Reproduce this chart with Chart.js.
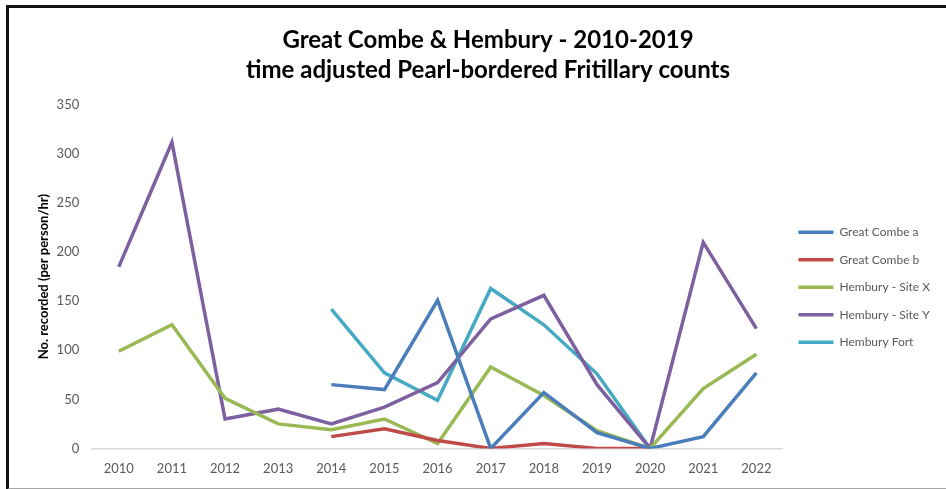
<!DOCTYPE html>
<html>
<head>
<meta charset="utf-8">
<script src="https://cdn.jsdelivr.net/npm/chart.js@4"></script>
<style>
  html, body { margin: 0; padding: 0; background: #fff; }
  .wrap { position: relative; width: 946px; height: 489px; overflow: hidden; }
  .frame {
    position: absolute; left: 6px; top: 5px; width: 950px; height: 480px;
    border-left: 3px solid #111; border-top: 3px solid #111; border-bottom: 2px solid #a6a6a6;
    pointer-events: none;
  }
  canvas { position: absolute; left: 0; top: 0; }
</style>
</head>
<body>
<div class="wrap">
  <canvas id="myChart" width="946" height="489"></canvas>
  <div class="frame"></div>
</div>
<script>
/* Data */
const years = ['2010', '2011', '2012', '2013', '2014', '2015', '2016', '2017', '2018', '2019', '2020', '2021', '2022'];
const greatCombeA = [null, null, null, null, 65, 60, 151, 0, 57, 16, 0, 12, 77];
const greatCombeB = [null, null, null, null, 12, 20, 8, 0, 5, 0, 0, null, null];
const hemburyX = [99, 126, 51, 25, 19, 30, 5, 83, 54, 18, 0, 61, 96];
const hemburyY = [185, 312, 30, 40, 25, 42, 67, 132, 156, 65, 0, 210, 122];
const hemburyFort = [null, null, null, null, 142, 77, 49, 163, 126, 76, 0, null, null];
const yTicks = [0, 50, 100, 150, 200, 250, 300, 350];

const fontFace = 'Lato, "Open Sans", sans-serif';
const tickGrey = '#595959';

function lineSet(label, data, colour) {
  return {
    label: label,
    data: data,
    borderColor: colour,
    backgroundColor: colour,
    borderWidth: 3.5,
    pointRadius: 0,
    pointHoverRadius: 0,
    tension: 0,
    spanGaps: false
  };
}

let ctx = document.getElementById('myChart').getContext('2d');
// eslint-disable-next-line
let chart = new Chart(ctx, {
  type: 'line',
  data: {
    labels: years,
    datasets: [
      lineSet('Great Combe a', greatCombeA, '#4A7EBB'),
      lineSet('Great Combe b', greatCombeB, '#BE4B48'),
      lineSet('Hembury - Site X', hemburyX, '#98B954'),
      lineSet('Hembury - Site Y', hemburyY, '#7D60A0'),
      lineSet('Hembury Fort', hemburyFort, '#46AAC5')
    ]
  },
  options: {
    responsive: false,
    animation: false,
    layout: {
      padding: { left: 36, right: 6, top: 0, bottom: 7 }
    },
    plugins: {
      title: {
        display: true,
        text: ['Great Combe & Hembury - 2010-2019', 'time adjusted Pearl-bordered Fritillary counts'],
        color: '#000',
        font: { family: fontFace, size: 24, weight: 'bold', lineHeight: 1.25 },
        padding: { top: 25, bottom: 20 }
      },
      legend: {
        position: 'right',
        title: {
          display: true,
          text: '',
          font: { family: fontFace, size: 12 },
          padding: { top: 0, bottom: 78 }
        },
        labels: {
          usePointStyle: true,
          pointStyle: 'line',
          pointStyleWidth: 35,
          color: tickGrey,
          font: { family: fontFace, size: 12 },
          padding: 15.5
        }
      },
      tooltip: { enabled: false }
    },
    scales: {
      x: {
        offset: true,
        grid: { display: false },
        border: { display: true, color: '#d9d9d9', width: 1.5 },
        ticks: { color: tickGrey, font: { family: fontFace, size: 13 }, padding: 5 }
      },
      y: {
        min: 0,
        max: 350,
        afterBuildTicks: function(axis) {
          axis.ticks = yTicks.map(function(v) { return { value: v }; });
        },
        grid: { display: false },
        border: { display: false },
        ticks: { color: tickGrey, font: { family: fontFace, size: 13 }, padding: 5 },
        title: {
          display: true,
          text: 'No. recorded (per person/hr)',
          color: '#000',
          font: { family: fontFace, size: 13, weight: 'bold' },
          padding: { top: 0, bottom: 0 }
        }
      }
    }
  }
});
</script>
</body>
</html>
